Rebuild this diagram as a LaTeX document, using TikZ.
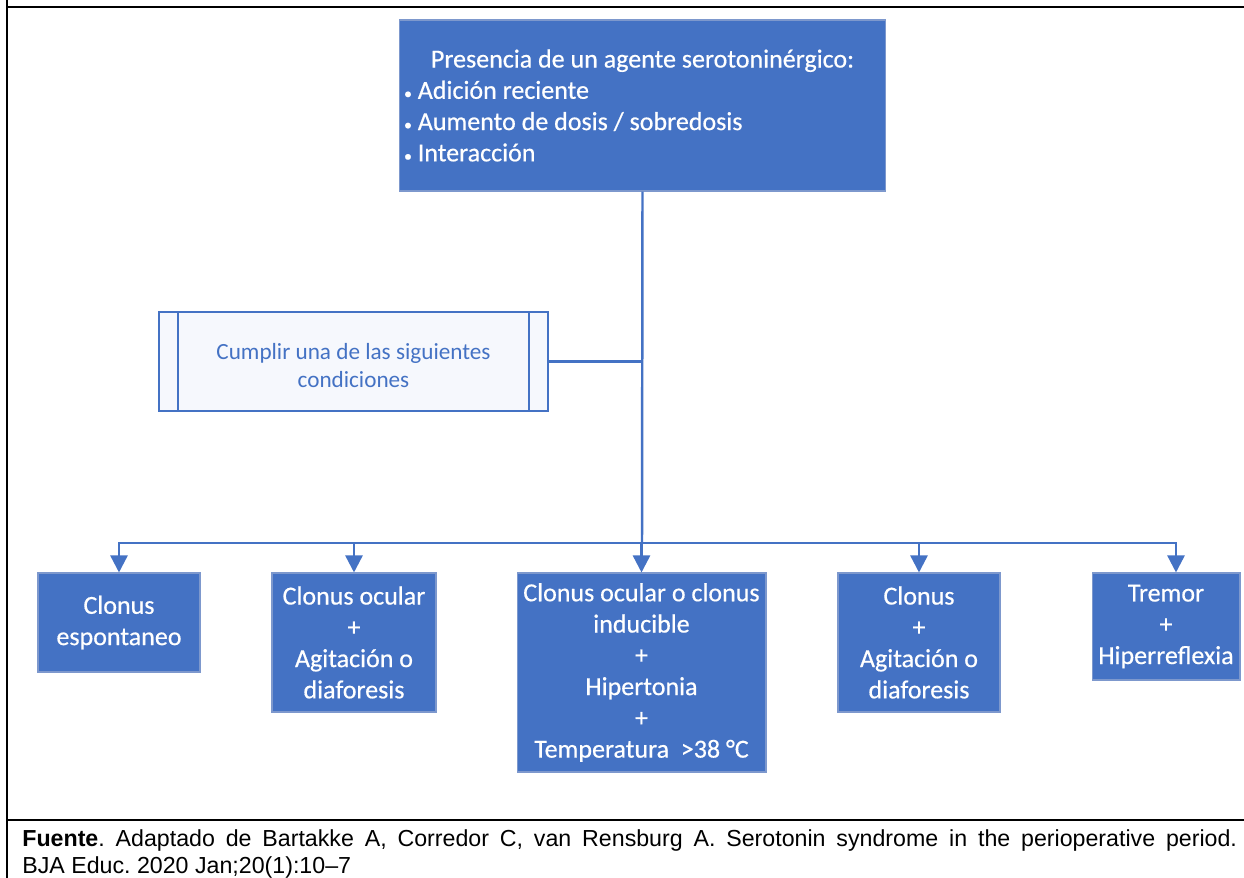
\documentclass[tikz,border=0pt]{standalone}
\usepackage{fontspec}
\setmainfont{Carlito}
\newfontfamily\boxfont[FakeBold=0.5]{Carlito}
\newfontfamily\arialfont{Liberation Sans}
\usetikzlibrary{arrows.meta}
\definecolor{boxblue}{RGB}{68,114,196}
\definecolor{edgeblue}{RGB}{125,152,205}
\definecolor{paleblue}{RGB}{246,248,253}
\frenchspacing

\begin{document}
\begin{tikzpicture}[x=0.02cm,y=-0.02cm,font=\fontsize{14.8}{17.8}\selectfont,
  crit/.style={fill=boxblue,draw=edgeblue,line width=0.6pt,text=white,font=\boxfont\fontsize{14.8}{17.8}\selectfont,align=center,inner sep=0pt},
  link/.style={boxblue,line width=1.4pt},
  arr/.style={link,-{Triangle[width=0.34cm,length=0.34cm]}}]
\useasboundingbox (0,0) rectangle (1244,878);
\draw [line width=1.7pt] (7,0) -- (7,878);
\draw [line width=1.7pt] (6,7) -- (1244,7);
\draw [line width=1.2pt] (6,820) -- (1244,820);
\node [crit,minimum width=9.74cm,minimum height=3.42cm,text width=9.54cm,align=none] (agente) at (642.5,105.5)
  {\centering Presencia de un agente serotoninérgico:\par\raggedright
  {\small•} Adición reciente\par {\small•} Aumento de dosis / sobredosis\par {\small•} Interacción\par};
\node [draw=boxblue,fill=paleblue,line width=0.9pt,text=boxblue,align=center,minimum width=7.78cm,minimum height=1.98cm,text height=1.03cm,font=\fontsize{13.2}{15.9}\selectfont] (cumplir) at (353.5,361.5)
  {Cumplir una de las siguientes\\condiciones};
\foreach \side/\dx in {west/0.4cm,east/-0.4cm}
  \draw [boxblue,line width=0.9pt] ([xshift=\dx]cumplir.north \side) -- ([xshift=\dx]cumplir.south \side);
\foreach \name/\x/\y/\w/\h/\txt in {
  c1/119/622.5/3.24/1.98/{Clonus\\espontaneo},
  c2/354/642.5/3.28/2.78/{Clonus ocular\\+\\Agitación o\\diaforesis},
  c3/641.5/672.5/4.98/3.98/{Clonus ocular o clonus\\inducible\\+\\Hipertonia\\+\\Temperatura~ >38 °C},
  c4/919/642.5/3.24/2.78/{Clonus\\+\\Agitación o\\diaforesis},
  c5/1166/626.5/2.96/2.14/{Tremor\\+\\Hiperreflexia}}
  \node [crit,minimum width=\w cm,minimum height=\h cm] (\name) at (\x,\y) {\txt};
\coordinate (bus) at (642,543);
\draw [link] (agente.south) -- (bus);
\draw [link] (cumplir.east) -- (cumplir.east -| bus);
\foreach \name in {c1,c2,c3,c4} \draw [arr] (bus) -| (\name.north);
\draw [arr] (bus) -| ([xshift=0.2cm]c5.north);
\node [anchor=north west,text width=24.3cm,align=justify,inner sep=0pt,font=\arialfont\fontsize{13.2}{15.4}\selectfont] (fuente) at (22,829)
  {\textbf{Fuente}. Adaptado de Bartakke A, Corredor C, van Rensburg A. Serotonin syndrome in the perioperative period.\linebreak BJA Educ. 2020 Jan;20(1):10–7};
\end{tikzpicture}
\end{document}
